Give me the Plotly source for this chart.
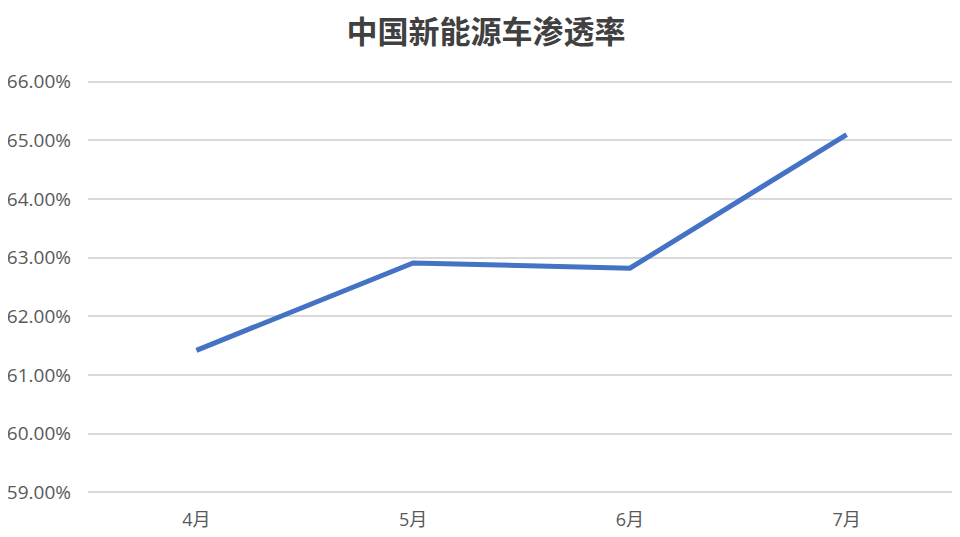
import plotly.graph_objects as go

months = ["4月", "5月", "6月", "7月"]
penetration = [0.6142, 0.6291, 0.6282, 0.6510]
title_text = "中国新能源车渗透率"

fig = go.Figure()
fig.add_trace(go.Scatter(
    x=months, y=penetration, mode="lines",
    line=dict(color="#4472C4", width=5),
    showlegend=False, hoverinfo="skip",
))

fig.update_layout(
    width=960, height=537,
    margin=dict(l=80, r=13, t=72, b=51),
    paper_bgcolor="white", plot_bgcolor="white",
    title=dict(text="<b>" + title_text + "</b>", x=0.498, xanchor="center", y=0.955, yanchor="middle",
               font=dict(family="Noto Sans CJK SC", size=31, color="#404040")),
    font=dict(family="Open Sans, Noto Sans CJK SC", size=15, color="#595959"),
)
fig.update_xaxes(
    type="category", range=[-0.5, 3.5], automargin=False,
    showgrid=False, showline=False, zeroline=False,
    ticks="", ticklabelstandoff=13,
    tickfont=dict(family="Open Sans, Noto Sans CJK SC", size=18, color="#595959"),
)
fig.update_yaxes(
    range=[0.5897, 0.6603], dtick=0.01, tickformat=".2%", automargin=False,
    showgrid=True, gridcolor="#D9D9D9", gridwidth=1.5,
    showline=False, zeroline=False, ticks="", ticklabelstandoff=16,
    tickfont=dict(family="Open Sans", size=19, color="#595959"),
)

fig.write_html("out.html")
